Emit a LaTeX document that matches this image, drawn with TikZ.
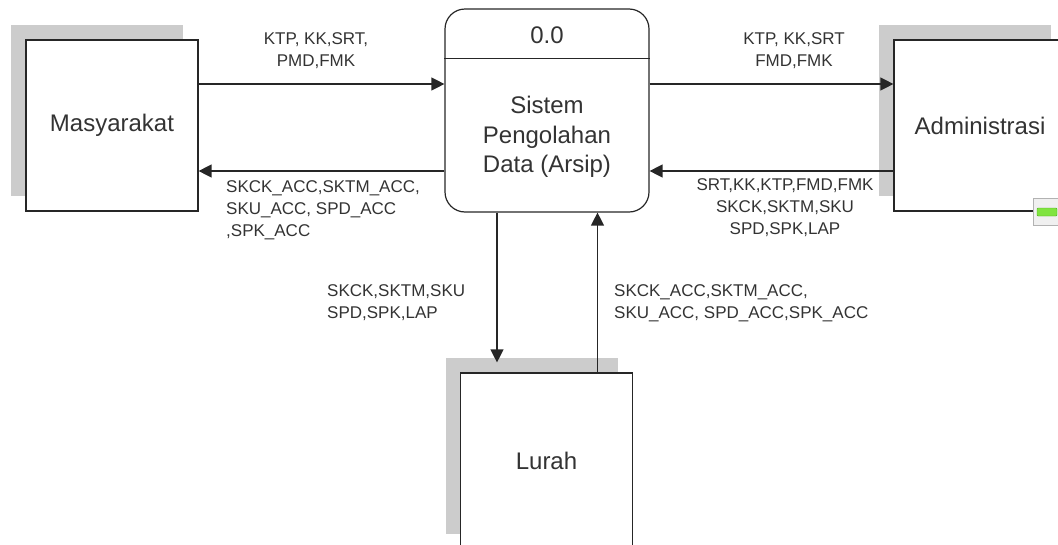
\documentclass[tikz,border=0pt]{standalone}
\usepackage{fontspec}
\setmainfont{Liberation Sans}
\usepackage{tikz}
\usetikzlibrary{arrows.meta,shadows}

\begin{document}
\begin{tikzpicture}[x=1pt,y=-1pt,
    entity/.style={draw=black!85, line width=1.2pt, fill=white, inner sep=0pt,
      minimum width=172pt, minimum height=171pt, text=black!80,
      font=\fontsize{24}{30}\selectfont,
      general shadow={fill=black!20, shadow xshift=-15pt, shadow yshift=15pt}},
    process/.style={draw=black!85, line width=1.2pt, rounded corners=20pt,
      minimum width=204pt, minimum height=203pt, inner sep=0pt},
    flow/.style={draw=black!85, line width=1.3pt, -{Triangle[length=13pt,width=13pt]}},
    lbl/.style={font=\fontsize{17}{22}\selectfont, text=black!80, inner sep=0pt}]
  \path[use as bounding box, clip] (0,0) rectangle (1058,544);

  \node[entity] (mas) at (112,125.5) {Masyarakat};
  \node[entity] (adm) at (980,125.5) {Administrasi};
  \node[entity, minimum height=176pt] (lur) at (546.5,461) {Lurah};

  \node[process] (proc) at (547,110.5) {};
  \draw[draw=black!85, line width=1.2pt] ([yshift=-50pt]proc.north west) -- ([yshift=-50pt]proc.north east);
  \node[font=\fontsize{24}{30}\selectfont, text=black!80] (pnum) at ([yshift=-27pt]proc.north) {0.0};
  \node[font=\fontsize{24}{29.5}\selectfont, text=black!80, align=center] (pname) at (547,137) {Sistem\\Pengolahan\\Data (Arsip)};

  % handle on the right box
  \node[draw=black!30, fill=black!6, minimum width=33pt, minimum height=27pt, inner sep=0pt, anchor=west] (grip) at (1033,211.5) {};
  \node[draw={rgb,255:red,80;green,170;blue,30}, fill={rgb,255:red,128;green,228;blue,64}, rounded corners=1pt,
    minimum width=20pt, minimum height=8pt, inner sep=0pt] (gripbar) at (1047,212) {};

  \coordinate (m1) at ([yshift=41.5pt]mas.east);
  \coordinate (m2) at ([yshift=-60.5pt]proc.west);
  \coordinate (a1) at ([yshift=26.5pt]proc.east);
  \coordinate (a2) at ([yshift=-45.5pt]adm.west);
  \coordinate (l1) at ([xshift=-50pt]proc.south);
  \coordinate (l2) at ([xshift=51pt]lur.north);

  \draw[flow] (m1) -- (m1 -| proc.west);
  \draw[flow] (m2) -- (m2 -| mas.east);
  \draw[flow] (a1) -- (a1 -| adm.west);
  \draw[flow] (a2) -- (a2 -| proc.east);
  \draw[flow, shorten >=10pt] (l1) -- (l1 |- lur.north);
  \draw[flow] (l2) -- (l2 |- proc.south);

  \node[lbl, align=center] (lmas1) at (316,51) {KTP, KK,SRT,\\PMD,FMK};
  \node[lbl, align=left, anchor=north west] (lmas2) at (226,180) {SKCK\_ACC,SKTM\_ACC,\\SKU\_ACC, SPD\_ACC\\,SPK\_ACC};
  \node[lbl, align=center] (ladm1) at (794,51) {KTP, KK,SRT\\FMD,FMK};
  \node[lbl, align=center] (ladm2) at (785,208) {SRT,KK,KTP,FMD,FMK\\SKCK,SKTM,SKU\\SPD,SPK,LAP};
  \node[lbl, align=left, anchor=north west] (llur1) at (327,284) {SKCK,SKTM,SKU\\SPD,SPK,LAP};
  \node[lbl, align=left, anchor=north west] (llur2) at (614,284) {SKCK\_ACC,SKTM\_ACC,\\SKU\_ACC, SPD\_ACC,SPK\_ACC};
\end{tikzpicture}
\end{document}
